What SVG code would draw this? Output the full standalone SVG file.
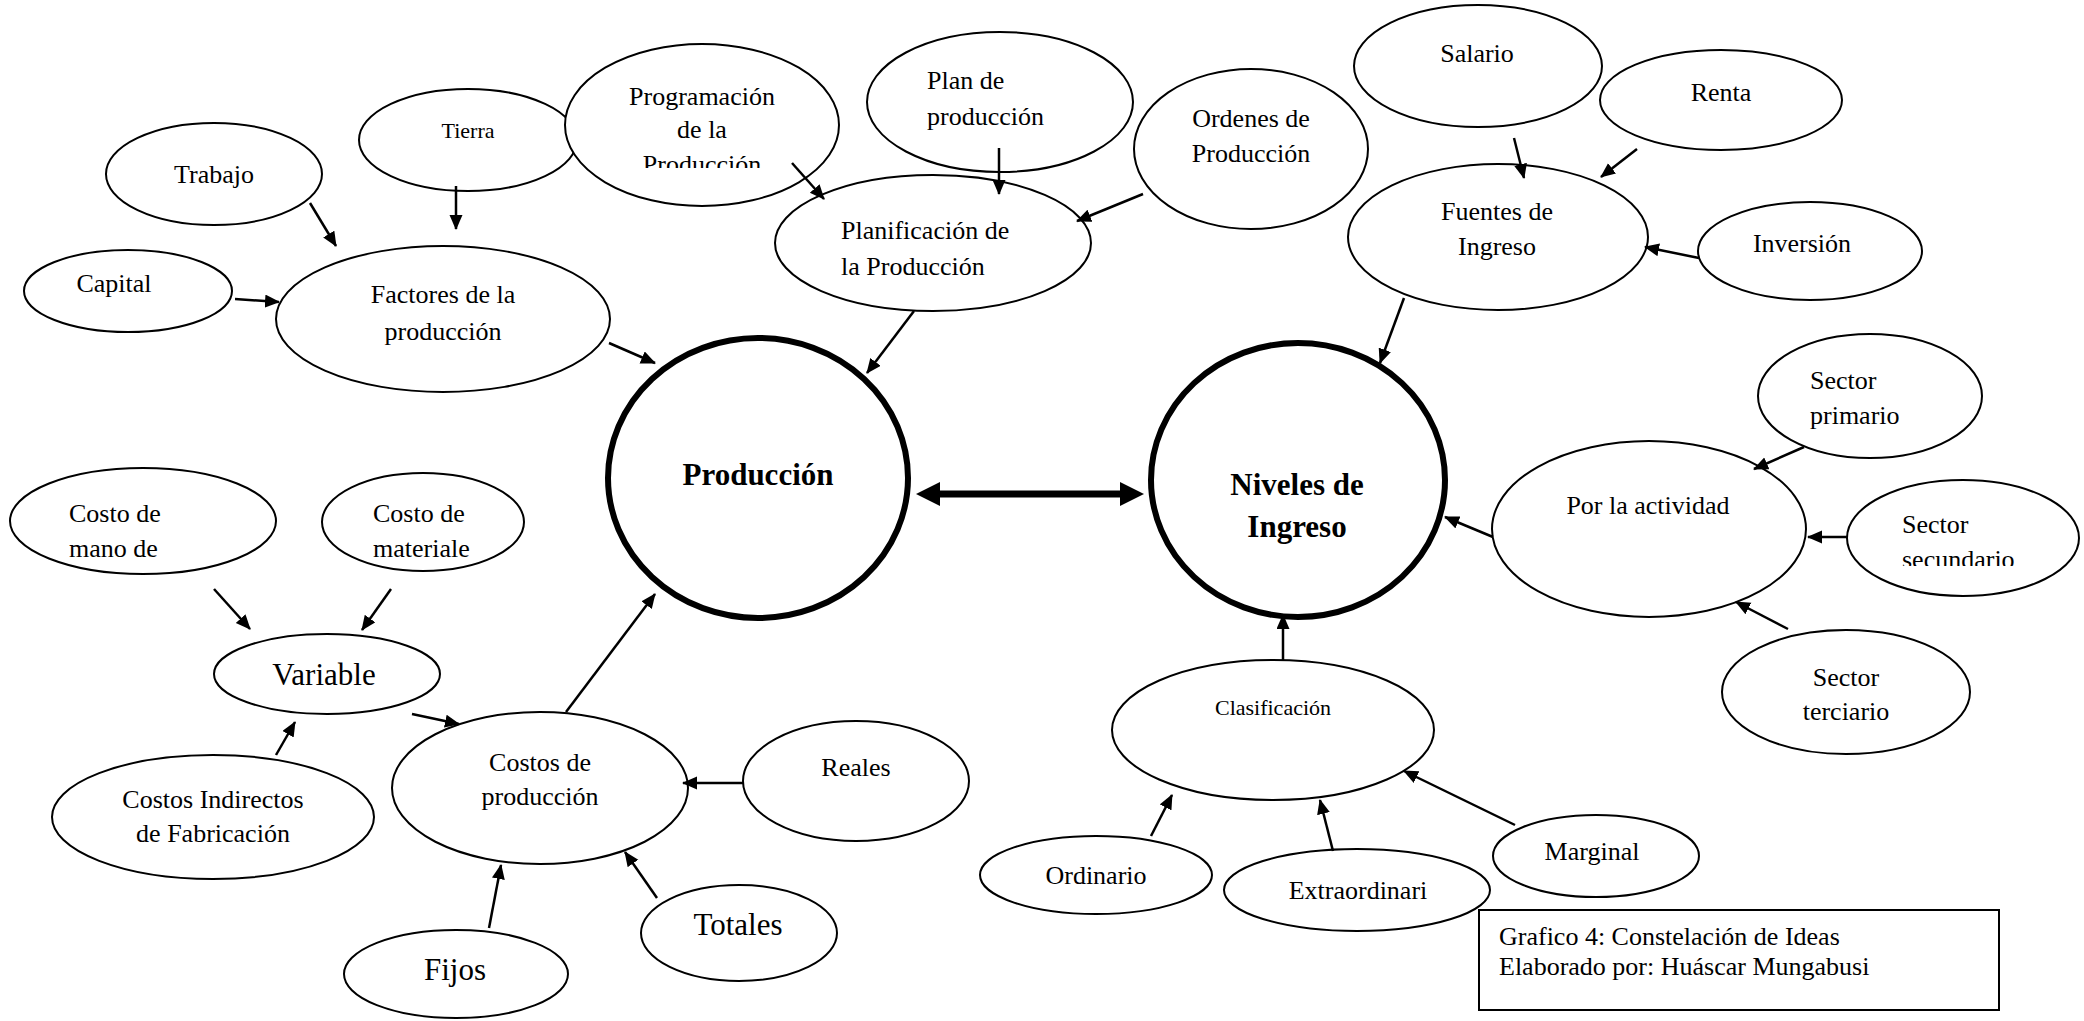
<svg xmlns="http://www.w3.org/2000/svg" width="2084" height="1021" viewBox="0 0 2084 1021">
<style>
.n ellipse{fill:#fff;stroke:#000;stroke-width:2}
.big ellipse{fill:#fff;stroke:#000;stroke-width:6}
text{font-family:"Liberation Serif","Times New Roman",serif;font-size:26px;fill:#000}
.c{text-anchor:middle}
.l{text-anchor:start}
.lg{font-size:31px}
.b{font-size:31px;font-weight:bold;text-anchor:middle}
.sm{font-size:22px}
#edges line{stroke:#000;stroke-width:2.5;marker-end:url(#ah)}
#edges line.dbl{stroke-width:7;marker-end:url(#bh);marker-start:url(#bh)}
</style>
<defs>
<marker id="ah" markerUnits="userSpaceOnUse" markerWidth="16" markerHeight="14" refX="14" refY="6.5" orient="auto"><path d="M0,0 L15,6.5 L0,13 z" fill="#000"/></marker>
<marker id="bh" markerUnits="userSpaceOnUse" markerWidth="26" markerHeight="26" refX="10" refY="12" orient="auto-start-reverse"><path d="M0,0 L24,12 L0,24 z" fill="#000"/></marker>
<clipPath id="clipProg"><rect x="560" y="40" width="290" height="128"/></clipPath>
<clipPath id="clipSec"><rect x="1850" y="480" width="230" height="86"/></clipPath>
</defs>
<rect width="2084" height="1021" fill="#fff"/>

<g id="trabajo" class="n"><ellipse cx="214" cy="174" rx="108" ry="51"/><text class="c" x="214" y="183">Trabajo</text></g>
<g id="capital" class="n"><ellipse cx="128" cy="291" rx="104" ry="41"/><text class="c" x="114" y="292">Capital</text></g>
<g id="tierra" class="n"><ellipse cx="468" cy="140" rx="109" ry="51"/><text class="c" x="468" y="138" style="font-size:22px">Tierra</text></g>
<g id="factores" class="n"><ellipse cx="443" cy="319" rx="167" ry="73"/><text class="c" x="443" y="303">Factores de la</text><text class="c" x="443" y="340">producción</text></g>
<g id="programacion" class="n"><ellipse cx="702" cy="125" rx="137" ry="81"/><g clip-path="url(#clipProg)"><text class="c" x="702" y="105">Programación</text><text class="c" x="702" y="138">de la</text><text class="c" x="702" y="173">Producción</text></g></g>
<g id="plan" class="n"><ellipse cx="1000" cy="102" rx="133" ry="70"/><text class="l" x="927" y="89">Plan de</text><text class="l" x="927" y="125">producción</text></g>
<g id="ordenes" class="n"><ellipse cx="1251" cy="149" rx="117" ry="80"/><text class="c" x="1251" y="127">Ordenes de</text><text class="c" x="1251" y="162">Producción</text></g>
<g id="planificacion" class="n"><ellipse cx="933" cy="243" rx="158" ry="68"/><text class="l" x="841" y="239">Planificación de</text><text class="l" x="841" y="275">la Producción</text></g>
<g id="salario" class="n"><ellipse cx="1478" cy="66" rx="124" ry="61"/><text class="c" x="1477" y="62">Salario</text></g>
<g id="renta" class="n"><ellipse cx="1721" cy="100" rx="121" ry="50"/><text class="c" x="1721" y="101">Renta</text></g>
<g id="fuentes" class="n"><ellipse cx="1498" cy="237" rx="150" ry="73"/><text class="c" x="1497" y="220">Fuentes de</text><text class="c" x="1497" y="255">Ingreso</text></g>
<g id="inversion" class="n"><ellipse cx="1810" cy="251" rx="112" ry="49"/><text class="c" x="1802" y="252">Inversión</text></g>
<g id="produccion" class="big"><ellipse cx="758" cy="478" rx="150" ry="140"/><text class="b" x="758" y="485">Producción</text></g>
<g id="niveles" class="big"><ellipse cx="1298" cy="480" rx="147" ry="137"/><text class="b" x="1297" y="495">Niveles de</text><text class="b" x="1297" y="537">Ingreso</text></g>
<g id="primario" class="n"><ellipse cx="1870" cy="396" rx="112" ry="62"/><text class="l" x="1810" y="389">Sector</text><text class="l" x="1810" y="424">primario</text></g>
<g id="actividad" class="n"><ellipse cx="1649" cy="529" rx="157" ry="88"/><text class="c" x="1648" y="514">Por la actividad</text></g>
<g id="secundario" class="n"><ellipse cx="1963" cy="538" rx="116" ry="58"/><g clip-path="url(#clipSec)"><text class="l" x="1902" y="533">Sector</text><text class="l" x="1902" y="568">secundario</text></g></g>
<g id="terciario" class="n"><ellipse cx="1846" cy="692" rx="124" ry="62"/><text class="c" x="1846" y="686">Sector</text><text class="c" x="1846" y="720">terciario</text></g>
<g id="clasificacion" class="n"><ellipse cx="1273" cy="730" rx="161" ry="70"/><text class="c sm" x="1273" y="715">Clasificación</text></g>
<g id="ordinario" class="n"><ellipse cx="1096" cy="875" rx="116" ry="39"/><text class="c" x="1096" y="884">Ordinario</text></g>
<g id="extraordinari" class="n"><ellipse cx="1357" cy="890" rx="133" ry="41"/><text class="c" x="1358" y="899">Extraordinari</text></g>
<g id="marginal" class="n"><ellipse cx="1596" cy="856" rx="103" ry="41"/><text class="c" x="1592" y="860">Marginal</text></g>
<g id="mano" class="n"><ellipse cx="143" cy="521" rx="133" ry="53"/><text class="l" x="69" y="522">Costo de</text><text class="l" x="69" y="557">mano de</text></g>
<g id="materiales" class="n"><ellipse cx="423" cy="522" rx="101" ry="49"/><text class="l" x="373" y="522">Costo de</text><text class="l" x="373" y="557">materiale</text></g>
<g id="variable" class="n"><ellipse cx="327" cy="674" rx="113" ry="40"/><text class="c lg" x="324" y="685">Variable</text></g>
<g id="cif" class="n"><ellipse cx="213" cy="817" rx="161" ry="62"/><text class="c" x="213" y="808">Costos Indirectos</text><text class="c" x="213" y="842">de Fabricación</text></g>
<g id="costos" class="n"><ellipse cx="540" cy="788" rx="148" ry="76"/><text class="c" x="540" y="771">Costos de</text><text class="c" x="540" y="805">producción</text></g>
<g id="reales" class="n"><ellipse cx="856" cy="781" rx="113" ry="60"/><text class="c" x="856" y="776">Reales</text></g>
<g id="totales" class="n"><ellipse cx="739" cy="933" rx="98" ry="48"/><text class="c lg" x="738" y="935">Totales</text></g>
<g id="fijos" class="n"><ellipse cx="456" cy="974" rx="112" ry="44"/><text class="c lg" x="455" y="980">Fijos</text></g>

<g id="caption"><rect x="1479" y="910" width="520" height="100" fill="#fff" stroke="#000" stroke-width="2"/><text class="l" x="1499" y="945">Grafico 4: Constelación de Ideas</text><text class="l" x="1499" y="975">Elaborado por: Huáscar Mungabusi</text></g>

<g id="edges">
<line x1="310" y1="203" x2="336" y2="246"/>
<line x1="456" y1="186" x2="456" y2="229"/>
<line x1="235" y1="299" x2="279" y2="302"/>
<line x1="609" y1="343" x2="655" y2="363"/>
<line x1="792" y1="163" x2="824" y2="199"/>
<line x1="999" y1="148" x2="999" y2="194"/>
<line x1="1143" y1="194" x2="1077" y2="221"/>
<line x1="914" y1="311" x2="867" y2="373"/>
<line class="dbl" x1="930" y1="494" x2="1130" y2="494"/>
<line x1="1514" y1="138" x2="1524" y2="178"/>
<line x1="1637" y1="149" x2="1601" y2="177"/>
<line x1="1699" y1="258" x2="1645" y2="247"/>
<line x1="1404" y1="298" x2="1380" y2="363"/>
<line x1="1804" y1="447" x2="1754" y2="469"/>
<line x1="1847" y1="537" x2="1808" y2="537"/>
<line x1="1788" y1="629" x2="1736" y2="602"/>
<line x1="1493" y1="537" x2="1445" y2="517"/>
<line x1="1283" y1="661" x2="1283" y2="615"/>
<line x1="1151" y1="836" x2="1172" y2="795"/>
<line x1="1333" y1="851" x2="1320" y2="800"/>
<line x1="1515" y1="825" x2="1404" y2="771"/>
<line x1="214" y1="589" x2="250" y2="629"/>
<line x1="391" y1="589" x2="362" y2="630"/>
<line x1="276" y1="755" x2="295" y2="722"/>
<line x1="412" y1="714" x2="459" y2="724"/>
<line x1="566" y1="712" x2="655" y2="594"/>
<line x1="744" y1="783" x2="683" y2="783"/>
<line x1="657" y1="898" x2="625" y2="852"/>
<line x1="489" y1="928" x2="501" y2="865"/>
</g>
</svg>
